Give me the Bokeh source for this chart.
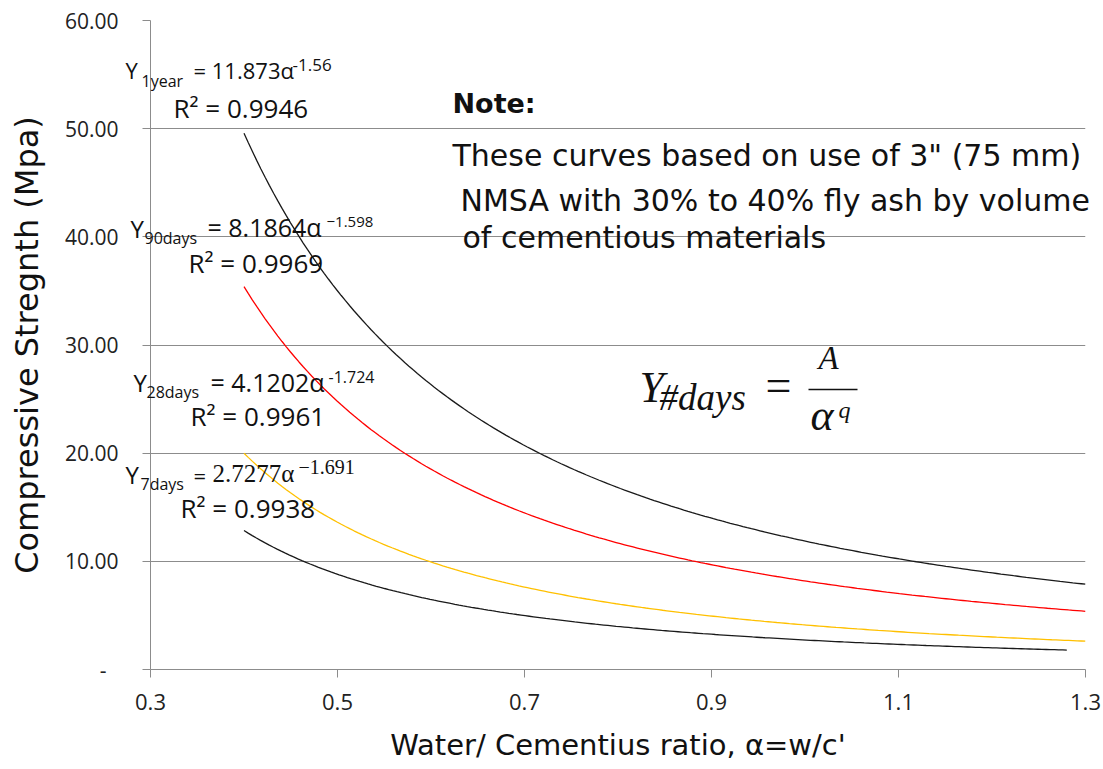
import numpy as np
from bokeh.plotting import figure
from bokeh.models import FixedTicker, Range1d
from bokeh.core.properties import value
from bokeh.embed import file_html
from bokeh.resources import INLINE

# Power-law trend lines: Y = A * alpha^(-q)
series_names = ["1year", "90days", "28days", "7days"]
coef_A = [11.873, 8.1864, 4.1202, 2.7277]
exp_q = [1.56, 1.598, 1.724, 1.691]
r_squared = [0.9946, 0.9969, 0.9961, 0.9938]
alpha_start = [0.4, 0.4, 0.4, 0.4]
alpha_end = [1.3, 1.3, 1.3, 1.28]
line_colors = ["#1a1a1a", "#FF0000", "#FFC000", "#1a1a1a"]

x_ticks = [0.3, 0.5, 0.7, 0.9, 1.1, 1.3]
x_tick_labels = ["0.3", "0.5", "0.7", "0.9", "1.1", "1.3"]
y_ticks = [0, 10, 20, 30, 40, 50, 60]
y_tick_labels = ["-\u2007", "10.00", "20.00", "30.00", "40.00", "50.00", "60.00"]

note_lines = [
    "These curves based on use of 3\" (75 mm)",
    "NMSA with 30% to 40% fly ash by volume",
    "of cementious  materials",
]

FONT = "Open Sans"
WIDE = "DejaVu Sans"
SERIF = "Liberation Serif"
GRID = "#8c8c8c"
INK = "#111111"

W, H = 1103, 769
LEFT, RIGHT, TOP, BOTTOM = 150, 18, 20, 100
X0, X1, Y0, Y1 = 0.3, 1.3, 0.0, 60.0

p = figure(width=W, height=H, output_backend="svg", toolbar_location=None,
           x_range=Range1d(X0, X1), y_range=Range1d(Y0, Y1),
           min_border_left=LEFT, min_border_right=RIGHT,
           min_border_top=TOP, min_border_bottom=BOTTOM)
p.outline_line_color = None
p.background_fill_color = "white"
p.border_fill_color = "white"

# axes
p.xaxis.ticker = FixedTicker(ticks=x_ticks)
p.xaxis.major_label_overrides = dict(zip(x_ticks, x_tick_labels))
p.yaxis.ticker = FixedTicker(ticks=y_ticks)
p.yaxis.major_label_overrides = dict(zip(y_ticks, y_tick_labels))
for ax in (p.xaxis[0], p.yaxis[0]):
    ax.axis_line_color = GRID
    ax.major_tick_line_color = GRID
    ax.major_tick_in = 0
    ax.major_tick_out = 8
    ax.minor_tick_line_color = None
    ax.major_label_text_font = FONT
    ax.major_label_text_color = "#222222"
    ax.axis_label_text_font = WIDE
    ax.axis_label_text_font_style = "normal"
    ax.axis_label_text_color = INK
p.xaxis.major_label_text_font_size = "22px"
p.yaxis.major_label_text_font_size = "21px"
p.xaxis.major_label_standoff = 16
p.yaxis.major_label_standoff = 24
p.xaxis.axis_label = "Water/ Cementius ratio, \u03b1=w/c'"
p.yaxis.axis_label = "Compressive Stregnth (Mpa)"
p.xaxis.axis_label_text_font_size = "29px"
p.yaxis.axis_label_text_font_size = "32px"
p.xaxis.axis_label_standoff = 15
p.yaxis.axis_label_standoff = 16

p.xgrid.grid_line_color = None
p.ygrid.grid_line_color = GRID
p.ygrid.grid_line_width = 1

# trend curves
for A, q, a0, a1, c in zip(coef_A, exp_q, alpha_start, alpha_end, line_colors):
    xs = np.linspace(a0, a1, 200)
    p.line(xs, A * xs ** (-q), line_color=c, line_width=1.3)

# canvas pixel -> data coordinate helpers for text placement
fw, fh = W - LEFT - RIGHT, H - TOP - BOTTOM


def dx(px):
    return X0 + (px - LEFT) / fw * (X1 - X0)


def dy(py):
    return Y0 + (H - BOTTOM - py) / fh * (Y1 - Y0)


def add(text, px, py, size, font=FONT, style="normal", color=INK):
    # py is the intended baseline; the svg text sits slightly low, so lift it
    p.text(x=[dx(px)], y=[dy(py - 0.35 * size)], text=[text], text_font=value(font),
           text_font_size=value(f"{size}px"), text_font_style=style,
           text_color=color, text_align="left", text_baseline="alphabetic",
           level="overlay")


# fitted equation labels (pixel layout per curve)
eq_layout = [
    dict(Y=(125, 77, 22), sub=(141, 86, 16), body=(193, 77, 22, FONT),
         sup=(292, 70, 17, FONT), r2=(173, 117), minus="-"),
    dict(Y=(130, 236, 24), sub=(144, 243, 16), body=(207, 235, 25, FONT),
         sup=(326, 227, 15, FONT), r2=(188, 272), minus="\u2212"),
    dict(Y=(133, 390, 24), sub=(146, 397, 16), body=(210, 390, 25, FONT),
         sup=(328, 382, 16, FONT), r2=(190, 425), minus="-"),
    dict(Y=(125, 482, 24), sub=(140, 489, 16), body=(193, 482, 25, SERIF),
         sup=(298, 473, 20, SERIF), r2=(180, 517), minus="\u2212"),
]
for name, A, q, r2, lay in zip(series_names, coef_A, exp_q, r_squared, eq_layout):
    add("Y", *lay["Y"])
    add(name, *lay["sub"])
    bx, by, bs, bf = lay["body"]
    if bf == FONT:
        add(f"= {A}\u03b1", bx, by, bs, font=bf)
    else:
        add("=", bx, by, 22)
        add(f"{A}\u03b1", bx + 19, by, bs, font=bf)
    sx, sy, ss, sf = lay["sup"]
    add(f"{lay['minus']}{q}", sx, sy, ss, font=sf)
    add(f"R\u00b2 = {r2}", *lay["r2"], 26)

# note block
add("Note:", 452, 112, 27, font=WIDE, style="bold")
add(note_lines[0], 452, 165, 30, font=WIDE)
add(note_lines[1], 460, 210, 30, font=WIDE)
add(note_lines[2], 462, 247, 30, font=WIDE)

# general model Y = A / alpha^q
add("Y", 639, 402, 44, font=SERIF, style="italic")
add("#days", 659, 410, 37, font=SERIF, style="italic")
add("=", 765, 401, 46, font=SERIF)
add("A", 818, 369, 33, font=SERIF, style="italic")
add("\u03b1", 810, 430, 44, font=SERIF, style="italic")
add("q", 838, 418, 24, font=SERIF, style="italic")
p.line(x=[dx(808), dx(857)], y=[dy(389), dy(389)], line_color=INK, line_width=1.6)

open("out.html", "w").write(file_html(p, INLINE))
